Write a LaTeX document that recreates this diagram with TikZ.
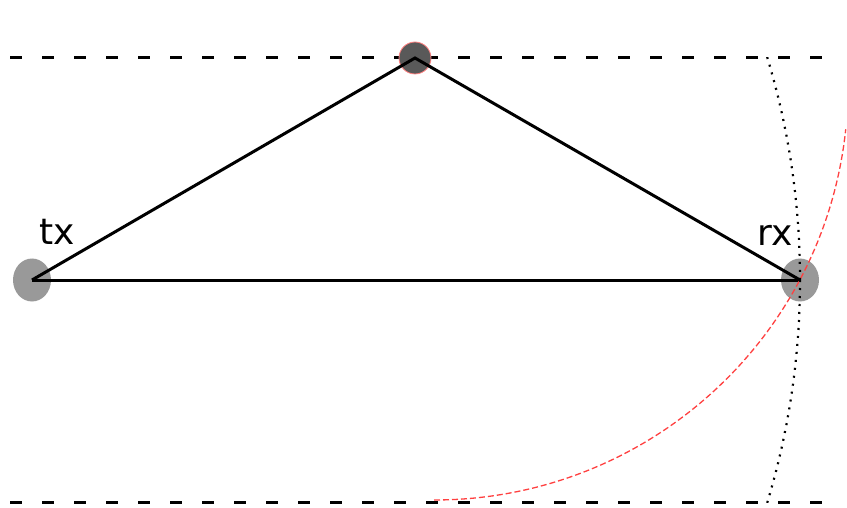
\documentclass[tikz,border=0pt]{standalone}
\usepackage{fontspec}
\setmainfont{DejaVu Sans}
\usetikzlibrary{shapes.geometric}

\begin{document}
\begin{tikzpicture}[x=1pt,y=-1pt,
  antenna/.style={ellipse,fill=gray!80,minimum width=38pt,minimum height=43pt,inner sep=0pt},
  reflector/.style={circle,fill=black!65,draw=red!50,line width=0.8pt,minimum size=32pt,inner sep=0pt},
  lbl/.style={font=\fontsize{36}{42}\selectfont},
  bound/.style={line width=3pt,dash pattern=on 12pt off 20pt},
  ray/.style={line width=3pt}]
\useasboundingbox (0,0) rectangle (847,508);
\draw[bound] (10,58)--(822,58);
\draw[bound] (10,502)--(822,502);
\node[antenna] (tx) at (32,280) {};
\node[antenna] (rx) at (800,280) {};
\node[reflector] (refl) at (415,58) {};
\node[lbl] (txlabel) at (57,232) {tx};
\node[lbl] (rxlabel) at (775,235) {rx};
\draw[ray] (tx.center)--(refl.center)--(rx.center);
\draw[ray] (tx.center)--(rx.center);
\begin{scope}
\clip (0,58) rectangle (847,502);
% reflected path front
\draw[red!75,line width=1.3pt,dash pattern=on 6pt off 3pt] (434,86) ++(90:414) arc (90:6:414);
\draw[line width=2.2pt,dash pattern=on 2pt off 6pt] (tx.center) circle (768);
\end{scope}
\end{tikzpicture}
\end{document}
